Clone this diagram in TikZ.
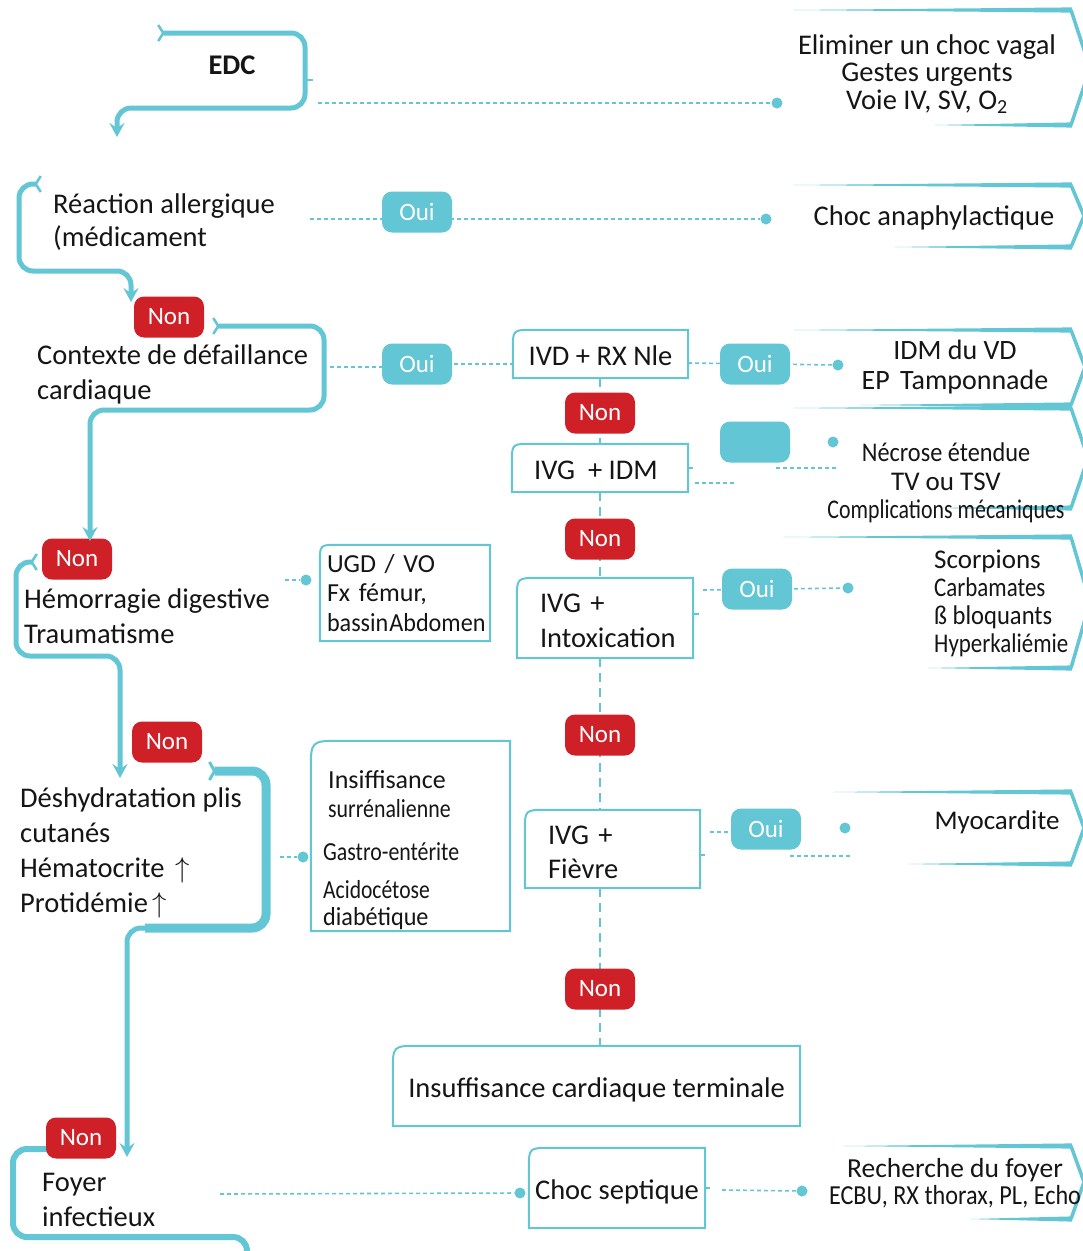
\documentclass[tikz,border=0pt]{standalone}
\usepackage{fontspec}
\usepackage{graphicx}
\setmainfont{Carlito}
\usetikzlibrary{arrows.meta}
\definecolor{cy}{HTML}{63C6D4}
\definecolor{rd}{HTML}{D02027}
\definecolor{ink}{HTML}{151515}
\newcommand\sq[2][0.86]{\scalebox{#1}[1]{#2}}
\newcommand\fs[2]{\fontsize{#1}{#2}\selectfont}
% one-line box text with a fixed height and depth, so every box sets its baseline alike
\newcommand\bl[1]{\raisebox{0pt}[26pt][4pt]{#1}}
\newcommand\up{\,\raisebox{0pt}[0pt][0pt]{\scalebox{1.15}{$\uparrow$}}}
% frame with one rounded (top-left) corner around a named node
\newcommand\cornerframe[2][20pt]{%
  \draw[frame] (#2.south west) -- ([yshift=-#1]#2.north west)
    .. controls (#2.north west) .. ([xshift=#1]#2.north west)
    -- (#2.north east) -- (#2.south east) -- cycle;}
% right-pointing result tag: #1 top-left x, #2 top y, #3 bottom-left x, #4 bottom y, #5 tip y, #6 tip x
\newcommand\chev[6]{%
  \fill[cy] (#1,#2) -- (1072,#2-2.6) -- (1072,#2+2.6) -- cycle;
  \fill[cy] (#3,#4) -- (1072,#4-2.6) -- (1072,#4+2.6) -- cycle;
  \draw[cy, line width=3.5pt, line join=miter] (1071,#2) -- (#6,#5) -- (1071,#4);}
\tikzset{
  flow/.style={draw=cy, line width=5pt, rounded corners=14pt},
  fork/.style={arrows={Straight Barb[reversed,length=5pt,width=16pt,line width=2.5pt]-Stealth[length=14pt,width=15pt,inset=5pt]}},
  tiponly/.style={arrows={-Stealth[length=14pt,width=15pt,inset=5pt]}},
  pill/.style={rounded corners=10pt, minimum width=70pt, minimum height=41pt, inner sep=0pt, text=white, font=\fs{25}{28}},
  nonpill/.style={pill, fill=rd},
  ouipill/.style={pill, fill=cy},
  link/.style={draw=cy, line width=1.6pt, dash pattern=on 4pt off 3pt},
  vlink/.style={draw=cy, line width=2pt, dash pattern=on 9pt off 6pt},
  stub/.style={draw=cy, line width=1.5pt},
  dot/.style={circle, fill=cy, inner sep=0pt, minimum size=11pt},
  frame/.style={draw=cy, line width=2pt},
  txt/.style={inner sep=0pt, text=ink, align=left, font=\fs{28.5}{35}},
  rtxt/.style={inner sep=0pt, text=ink, align=center},
  boxn/.style={inner sep=0pt, text=ink, font=\fs{28.5}{35}},
}
\begin{document}
\begin{tikzpicture}[x=1pt,y=-1pt]
\useasboundingbox (0,0) rectangle (1083,1251);
\clip (0,0) rectangle (1083,1251);
\fill[white] (0,0) rectangle (1083,1251);

% ---------- left column: questions
\node[txt, font=\fs{28.5}{32}\bfseries] (edc) at (232,65) {EDC};
\node[txt, anchor=west, font=\fs{28.5}{33}] (react) at (53,222) {Réaction allergique\\(médicament};
\node[txt, anchor=west] (ctx) at (37,374) {Contexte de défaillance\\cardiaque};
\node[txt, anchor=west] (hem) at (24,616) {Hémorragie digestive\\Traumatisme};
\node[txt, anchor=west] (desh) at (20,850) {Déshydratation plis\\cutanés\\Hématocrite \up\\Protidémie\up};
\node[txt, anchor=west] (foyer) at (42,1200) {Foyer\\infectieux};

% ---------- middle boxes
\node[boxn, minimum width=175pt, minimum height=48pt] (ivd) at (600.5,354) {\bl{IVD + RX Nle}};
\node[boxn, minimum width=176pt, minimum height=48pt] (idm) at (600,468) {\bl{IVG\ \ + IDM\hspace{8pt}}};
\node[boxn, text width=130pt, inner xsep=23pt, minimum height=80pt, align=left] (intox) at (605,618) {\rule{0pt}{25pt}IVG +\\Intoxication};
\node[boxn, text width=129pt, inner xsep=23pt, minimum height=78pt, align=left, font=\fs{28.5}{34}] (fievre) at (612.5,849) {\rule{0pt}{26pt}IVG +\\Fièvre};
\node[boxn, minimum width=407pt, minimum height=80pt] (term) at (596.5,1086) {\bl{Insuffisance cardiaque terminale}};
\node[boxn, minimum width=176pt, minimum height=80pt] (septic) at (617,1188) {\bl{Choc septique}};
\node[boxn, text width=156pt, inner xsep=7pt, minimum height=96pt, align=left, font=\fs{26}{29.5}] (ugd) at (405,593) {UGD / VO\\Fx fémur,\\\sq[0.93]{bassin\hspace{1pt}Abdomen}};
\node[boxn, minimum width=199pt, minimum height=190pt] (insuf) at (410.5,836) {};
\node[txt, anchor=west, font=\fs{26}{29}] (insuftxt) at (323,850) {\hspace{5pt}Insiffisance\\\hspace{5pt}\sq[0.84]{surrénalienne}\\[14pt]\sq[0.84]{Gastro-entérite}\\[9pt]\sq[0.83]{Acidocétose}\\[-2pt]\sq[0.93]{diabétique}};

% ---------- dotted links (under pills)
\node[dot] (d1) at (777,103) {};
\node[dot] (d2) at (766,219) {};
\node[dot] (d3) at (838,365) {};
\node[dot] (d4) at (833,442) {};
\node[dot] (d5) at (848,588) {};
\node[dot] (d6) at (845,828) {};
\node[dot] (d7) at (306,580) {};
\node[dot] (d8) at (303,857) {};
\node[dot] (d9) at (520,1193) {};
\node[dot] (d10) at (802,1191) {};

\coordinate (edcR) at (318,103);
\coordinate (reactR) at (310,219);
\coordinate (ctxR) at (330,367);
\coordinate (m1) at (695,483);
\coordinate (m2) at (735,483);
\coordinate (m3) at (776,468);
\coordinate (m4) at (836,468);
\coordinate (i1) at (703,590);
\coordinate (f1) at (710,832);
\coordinate (f2) at (790,856);
\coordinate (f3) at (850,856);
\coordinate (h1) at (285,580);
\coordinate (s1) at (280,857);
\coordinate (y1) at (220,1194);
\coordinate (c1) at (722,1190);

\draw[link] (edcR) -- (d1);
\draw[link] (reactR) -- (d2);
\draw[link] (ctxR) -- (ctxR -| 400,0);
\draw[link] (440,364) -- (440,364 -| ivd.west);
\draw[link] ([yshift=-9pt]ivd.east) -- (d3);
\draw[stub] (idm.east) -- ++(5,0);
\draw[link] (m1) -- (m2);
\draw[link] (m3) -- (m4);
\draw[link] (i1) -- (d5);
\draw[stub] ([yshift=4pt]intox.east) -- ++(6,0);
\draw[link] (f1) -- (740,832);
\draw[link] (f2) -- (f3);
\draw[stub] ([yshift=-6pt]fievre.east) -- ++(5,0);
\draw[link] (h1) -- (d7);
\draw[link] (s1) -- (d8);
\draw[link] (y1) -- (d9);
\draw[stub] (septic.east) -- ++(5,0);
\draw[link] (c1) -- (d10);
\draw[stub] (306,80) -- (313,80);

% ---------- vertical chain of the IVG questions
\draw[vlink] (600,378) -- (600,444);
\draw[vlink] (600,492) -- (600,578);
\draw[vlink] (600,658) -- (600,810);
\draw[vlink] (600,888) -- (600,1046);

% ---------- box frames
\cornerframe[20pt]{ivd}
\cornerframe[20pt]{idm}
\cornerframe[22pt]{intox}
\cornerframe[22pt]{fievre}
\cornerframe[26pt]{term}
\cornerframe[22pt]{septic}
\cornerframe[18pt]{ugd}
\cornerframe[30pt]{insuf}

% ---------- last branch (starts under its pill)
\draw[flow, line width=6pt] (50,1149) -- (13,1149) -- (13,1237) -- (247,1237) -- (247,1265);

% ---------- pills
\node[nonpill] (non1) at (169,317) {Non};
\node[ouipill] (oui1) at (417,212) {Oui};
\node[ouipill] (oui2) at (417,364) {Oui\hspace{18pt}};
\node[ouipill] (oui3) at (755,364) {Oui\hspace{18pt}};
\node[nonpill] (non2) at (600,413) {Non};
\node[ouipill] (oui0) at (755,442) {};
\node[nonpill] (non3) at (600,539) {Non};
\node[ouipill] (oui4) at (757,589) {Oui};
\node[nonpill] (non4) at (77,559) {Non};
\node[nonpill] (non5) at (600,735) {Non};
\node[nonpill] (non6) at (167,742) {Non};
\node[ouipill] (oui5) at (766,829) {Oui};
\node[nonpill] (non7) at (600,989) {Non};
\node[nonpill] (non8) at (81,1138) {Non};

% ---------- main decision path
\draw[flow, fork] (157,33) -- (305,33) -- (305,108) -- (117,108) -- (117,137);
\draw[flow, fork] (42,184) -- (19,184) -- (19,271) -- (131,271) -- (131,302);
\draw[flow, fork] (212,326) -- (324,326) -- (324,410) -- (90,410) -- (90,541);
\draw[flow, fork] (38,562) -- (16,562) -- (16,656) -- (120,656) -- (120,778);
\draw[flow, line width=9pt, arrows={Straight Barb[reversed,length=5pt,width=18pt,line width=3pt]-}] (208,771) -- (266,771) -- (266,928) -- (145,928);
\draw[flow, tiponly] (150,928) -- (127,928) -- (127,1157);

% ---------- result tags
\chev{793}{10}{935}{125}{68}{1090}
\chev{793}{185}{895}{247}{216}{1084}
\chev{793}{330}{860}{405}{367}{1085}
\chev{793}{408}{940}{508}{458}{1088}
\chev{783}{537}{928}{668}{602}{1090}
\chev{833}{792}{908}{864}{828}{1084}
\chev{843}{1146}{970}{1219}{1182}{1084}

\node[rtxt, font=\fs{28.5}{27.5}] (vagal) at (927,74) {Eliminer un choc vagal\\Gestes urgents\\Voie IV, SV, O\textsubscript{2}};
\node[rtxt, font=\fs{28.5}{30}] (ana) at (934,218) {Choc anaphylactique};
\node[rtxt, font=\fs{28}{30}] (vd) at (955,367) {IDM du VD\\EP\hspace{4pt} Tamponnade};
\node[rtxt, font=\fs{27}{28.5}] (necro) at (946,483) {\sq[0.9]{Nécrose étendue}\\TV ou TSV\\\sq[0.81]{Complications mécaniques}};
\node[rtxt, anchor=west, align=left, font=\fs{27}{28}] (tox) at (934,603) {Scorpions\\\sq[0.85]{Carbamates}\\\sq[0.91]{ß bloquants}\\\sq[0.85]{Hyperkaliémie}};
\node[rtxt, font=\fs{27}{30}] (myo) at (997,822) {Myocardite};
\node[rtxt, font=\fs{27.5}{27}] (foy) at (955,1183) {Recherche du foyer\\\sq[0.88]{ECBU, RX thorax, PL, Echo}};
\end{tikzpicture}
\end{document}
